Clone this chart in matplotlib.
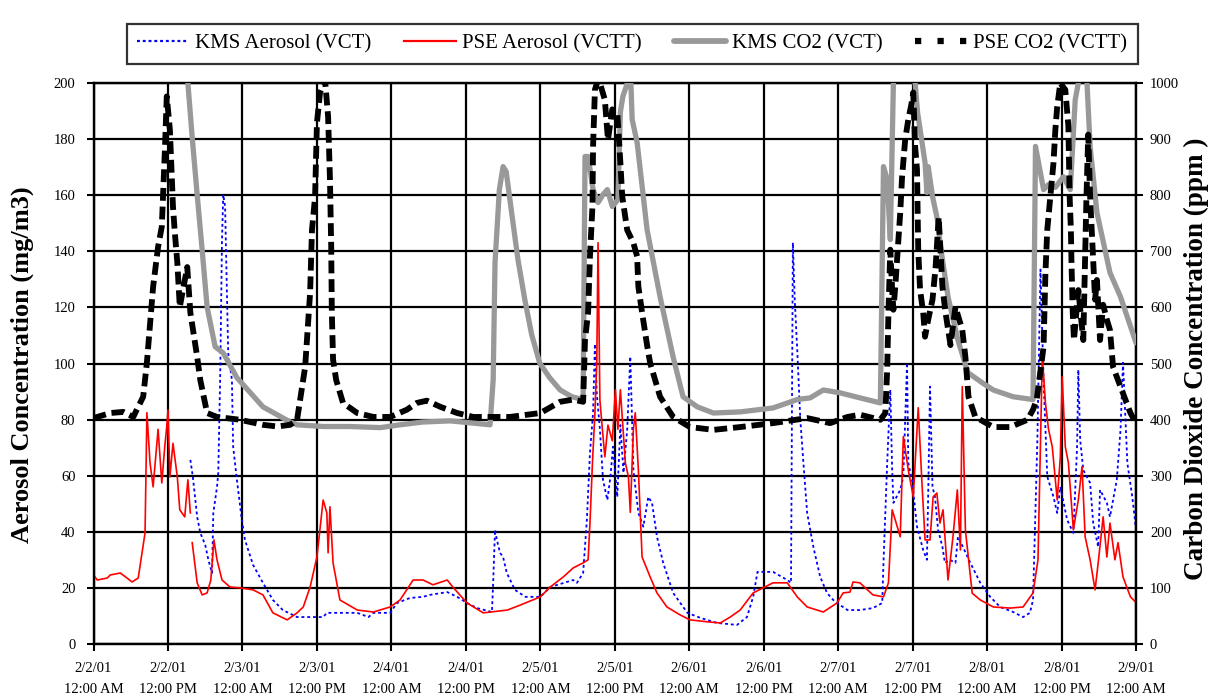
import numpy as np
import matplotlib
matplotlib.use("Agg")
import matplotlib.pyplot as plt
from matplotlib.lines import Line2D

# ---------------- data (hours since 2/2/01 12:00 AM) ----------------
tick_labels = ["2/2/01\n12:00 AM", "2/2/01\n12:00 PM", "2/3/01\n12:00 AM", "2/3/01\n12:00 PM",
               "2/4/01\n12:00 AM", "2/4/01\n12:00 PM", "2/5/01\n12:00 AM", "2/5/01\n12:00 PM",
               "2/6/01\n12:00 AM", "2/6/01\n12:00 PM", "2/7/01\n12:00 AM", "2/7/01\n12:00 PM",
               "2/8/01\n12:00 AM", "2/8/01\n12:00 PM", "2/9/01\n12:00 AM"]
tick_hours = [0, 12, 24, 36, 48, 60, 72, 84, 96, 108, 120, 132, 144, 156, 168]

# KMS Aerosol (VCT) - left axis
kms_aer_h = [15.6, 16.0, 16.7, 17.2, 18.0, 18.5, 19.1, 19.3, 19.9, 20.1, 20.4, 20.7, 20.9, 21.2, 21.5, 21.7,
             22.3, 22.5, 23.1, 23.9, 24.4, 25.7, 27.3, 28.9, 30.5, 32.8, 37.0, 37.6, 42.5, 44.3, 45.1, 47.8,
             48.9, 51.0, 53.1, 54.2, 57.0, 58.6, 60.2, 61.8, 64.2, 64.4, 64.7, 65.0, 65.5, 66.0, 66.6, 67.9,
             69.6, 72.0, 73.6, 77.3, 77.9, 78.9, 79.5, 80.0, 80.5, 80.8, 81.1, 81.6, 82.1, 82.8, 83.3, 83.7,
             84.4, 84.9, 85.4, 86.0, 86.5, 87.0, 87.8, 88.6, 89.4, 90.0, 90.8, 91.8, 93.4, 95.7, 97.8, 100.5,
             103.7, 105.3, 106.3, 107.0, 107.9, 109.5, 111.8, 112.4, 112.7, 113.0, 113.4, 113.9, 114.4, 115.0,
             116.0, 117.1, 118.2, 119.2, 120.3, 121.5, 123.5, 125.6, 127.1, 127.3, 127.9, 128.4, 128.7, 128.9,
             130.0, 130.5, 131.1, 131.3, 131.9, 132.7, 133.7, 134.3, 134.5, 134.8, 135.2, 135.6, 136.1, 136.8,
             137.2, 138.0, 138.9, 139.3, 140.1, 141.3, 142.9, 144.5, 146.1, 148.2, 149.8, 150.9, 151.4, 151.7,
             152.1, 152.6, 153.1, 153.7, 154.7, 155.3, 155.8, 156.9, 157.9, 158.5, 158.7, 159.0, 159.5, 160.6,
             161.1, 161.9, 162.2, 163.3, 163.8, 164.9, 165.5, 165.9, 166.6, 167.4, 168.0]
kms_aer = [65.7, 59.7, 45.4, 39.7, 35.4, 30.1, 25.4, 46.8, 56.1, 61.1, 94.2, 144.0, 160.2, 156.0, 125.2, 103.8,
           94.2, 70.4, 58.6, 44.3, 37.2, 28.3, 21.9, 15.8, 12.2, 9.7, 9.7, 11.2, 11.2, 9.7, 11.2, 11.2,
           14.7, 16.5, 16.9, 17.6, 18.6, 16.9, 14.7, 12.9, 11.5, 21.9, 40.8, 37.2, 32.6, 31.1, 25.4, 19.4,
           16.9, 16.9, 20.4, 22.9, 21.9, 25.4, 44.3, 68.2, 82.5, 107.0, 89.4, 76.6, 58.6, 51.4, 59.7, 70.4,
           52.5, 78.1, 61.1, 76.6, 102.5, 62.1, 46.8, 41.9, 52.5, 50.4, 38.3, 29.0, 18.3, 11.2, 9.4, 7.6,
           6.9, 9.7, 16.9, 25.8, 25.8, 25.8, 22.9, 21.9, 143.1, 122.7, 105.0, 80.0, 64.6, 46.8,
           34.7, 24.0, 18.3, 15.8, 14.0, 12.2, 12.2, 12.9, 14.7, 29.0, 64.6, 90.7, 62.1, 50.4,
           55.0, 59.7, 100.3, 64.6, 58.6, 41.9, 33.6, 30.1, 52.5, 91.8, 56.1, 52.5, 40.8, 34.7,
           29.0, 30.1, 29.0, 38.3, 34.7, 29.0, 21.9, 16.9, 13.3, 11.5, 9.7, 11.2, 15.8, 40.8,
           72.8, 133.5, 94.0, 59.7, 52.5, 46.8, 56.1, 44.3, 39.7, 70.4, 97.8, 72.8, 62.1, 57.5,
           43.2, 34.7, 55.0, 50.4, 45.4, 58.6, 76.4, 100.3, 64.6, 52.5, 40.8]

# PSE Aerosol (VCTT) - left axis (NaN = gap in record)
pse_aer_h = [0.0, 0.6, 2.2, 2.7, 4.3, 5.4, 6.2, 7.2, 7.8, 8.3, 8.6, 9.1, 9.6, 10.4, 11.0, 11.5, 11.8, 12.0,
             12.3, 12.8, 13.5, 13.9, 14.7, 15.2, 15.6, 15.75, 15.9, 16.7, 17.5, 18.3, 18.9, 19.4, 19.9, 20.7,
             22.0, 23.6, 25.7, 27.3, 28.9, 31.2, 32.8, 33.8, 34.9, 36.0, 37.0, 37.6, 37.8, 38.1, 38.6, 39.7,
             42.5, 45.1, 47.8, 49.4, 51.5, 53.1, 54.7, 57.0, 57.9, 60.2, 62.8, 66.7, 68.8, 72.0, 73.6, 75.7,
             77.3, 78.9, 79.7, 80.0, 80.4, 80.8, 81.1, 81.3, 81.6, 82.0, 82.4, 82.9, 83.6, 84.1, 84.5, 84.9,
             85.7, 86.2, 86.5, 87.0, 87.3, 87.8, 88.4, 89.7, 90.8, 92.4, 94.5, 96.1, 99.4, 101.0, 102.6, 104.2,
             106.3, 107.9, 109.5, 111.8, 113.4, 115.0, 117.6, 119.8, 120.8, 121.9, 122.4, 123.5, 125.6, 127.3,
             128.1, 128.7, 129.2, 130.0, 130.5, 131.3, 132.1, 132.9, 133.5, 134.0, 134.8, 135.3, 135.9, 136.4,
             136.9, 137.7, 138.5, 139.2, 139.7, 140.0, 140.5, 141.6, 142.9, 145.0, 147.7, 149.8, 151.4, 152.2,
             152.9, 153.4, 153.9, 154.5, 155.3, 155.8, 156.1, 156.6, 157.1, 157.9, 158.7, 159.3, 159.8, 160.6,
             161.4, 161.9, 162.7, 163.3, 163.8, 164.6, 165.1, 165.9, 167.1, 167.9]
pse_aer = [24.7, 22.9, 23.6, 24.7, 25.4, 23.6, 22.2, 23.6, 32.5, 39.7, 82.5, 64.7, 56.1, 76.6, 57.5, 71.0, 77.6, 83.5,
           59.6, 71.6, 59.6, 47.9, 45.4, 58.6, 46.8, np.nan, 36.2, 21.9, 17.6, 18.3, 22.9, 37.2, 30.1, 22.9,
           20.4, 20.1, 19.4, 17.6, 11.2, 8.7, 11.2, 13.3, 20.4, 31.1, 51.4, 46.8, 32.6, 49.0, 29.0, 15.8,
           12.2, 11.5, 13.3, 15.8, 22.9, 22.9, 21.2, 22.9, 20.4, 14.7, 11.2, 12.2, 14.0, 16.9, 20.4, 24.0,
           27.2, 29.0, 30.1, 43.2, 64.7, 82.5, 100.6, 143.1, 87.1, 76.6, 66.8, 78.1, 72.5, 90.7, 76.6, 90.7,
           64.7, 59.6, 47.0, 76.6, 82.5, 62.1, 31.1, 24.0, 18.3, 13.3, 10.5, 8.7, 7.9, 7.6, 9.7, 12.2,
           18.3, 20.1, 21.9, 21.9, 16.9, 13.3, 11.5, 14.7, 18.3, 18.6, 22.2, 21.9, 17.6, 16.9,
           21.9, 47.9, 44.3, 38.3, 74.0, 62.1, 52.5, 84.3, 57.5, 37.2, 37.2, 52.5, 53.9, 43.2,
           47.9, 22.9, 38.3, 55.0, 33.6, 91.8, 40.8, 18.2, 15.8, 13.3, 12.9, 13.3, 18.3, 30.1,
           102.5, 86.0, 76.6, 70.4, 51.4, 66.8, 95.3, 70.4, 64.7, 40.8, 51.4, 63.3, 38.3, 30.1,
           19.4, 29.0, 45.4, 31.1, 43.2, 30.1, 36.2, 24.0, 16.9, 15.1]

# KMS CO2 (VCT) - right axis, ppm
kms_co2_h = [14.9, 15.2, 15.9, 16.7, 17.5, 18.3, 19.6, 20.9, 23.1, 27.3, 31.7, 32.8, 37.0, 41.3, 46.2, 49.4,
             53.1, 57.5, 61.2, 63.9, 64.4, 64.7, 65.4, 66.0, 66.5, 67.1, 68.4, 69.5, 70.6, 71.9, 73.5, 75.2,
             77.1, 78.9, 79.2, 79.7, 80.5, 81.3, 82.1, 82.8, 83.6, 84.5, 84.9, 85.3, 86.2, 86.5, 86.8, 87.6,
             89.2, 91.3, 93.4, 95.0, 97.3, 99.9, 104.2, 109.5, 113.4, 115.5, 117.6, 120.3, 123.5, 126.8,
             127.3, 127.9, 128.4, 128.9, 129.0, 132.2, 132.5, 132.8, 134.0, 134.3, 134.5, 135.2, 136.0, 136.5,
             137.7, 139.3, 140.9, 143.2, 145.0, 148.2, 151.4, 151.8, 153.1, 153.9, 155.0, 156.3, 157.4, 158.2,
             158.7, 159.1, 159.8, 160.1, 160.6, 161.7, 163.8, 165.5, 168.0]
kms_co2 = [1030, 1000, 903, 801, 703, 601, 530, 519, 475, 423, 396, 391, 388, 388, 386, 391,
           396, 398, 394, 391, 471, 680, 810, 851, 842, 792, 685, 614, 552, 501, 475, 453,
           441, 436, 869, 869, 810, 787, 801, 810, 780, 792, 948, 976, 1005, 1030, 935, 894,
           739, 619, 512, 441, 423, 412, 414, 421, 436, 439, 453, 448, 439, 430,
           851, 828, 721, 1000, 1030, 1030, 987, 947, 858, 805, 851, 798, 756, 708,
           619, 542, 484, 466, 453, 441, 436, 887, 810, 819, 814, 833, 810, 970,
           1000, 1030, 1030, 1000, 887, 769, 662, 619, 537]

# PSE CO2 (VCTT) - right axis, ppm
pse_co2_h = [0.0, 2.7, 4.8, 6.4, 7.2, 8.0, 8.6, 9.6, 10.4, 11.0, 11.5, 11.8, 12.3, 12.8, 13.1, 13.5, 13.9,
             14.4, 15.1, 15.6, 16.7, 17.2, 18.3, 19.9, 23.6, 27.3, 29.6, 31.7, 32.8, 33.3, 34.1, 34.9, 35.2,
             35.7, 36.0, 36.5, 37.3, 37.8, 38.1, 38.3, 38.4, 38.6, 39.1, 40.2, 42.5, 45.1, 47.8, 50.5, 52.1,
             53.7, 55.9, 58.6, 61.2, 67.1, 72.0, 75.2, 77.3, 78.9, 79.2, 79.7, 80.0, 80.4, 80.5, 80.8, 81.3,
             81.6, 82.4, 82.9, 83.6, 84.4, 84.9, 85.2, 86.0, 87.0, 87.6, 87.8, 88.4, 89.2, 89.7, 91.3, 93.4,
             96.1, 99.9, 104.2, 109.5, 115.0, 118.7, 121.5, 123.5, 126.8, 127.6, 127.9, 128.1, 128.4, 128.7,
             128.9, 129.2, 129.7, 130.0, 130.3, 130.8, 131.3, 131.8, 132.1, 132.4, 132.7, 132.9, 133.2, 133.7,
             134.0, 134.5, 135.2, 135.7, 136.2, 136.8, 137.3, 138.1, 138.9, 140.0, 140.5, 141.0, 142.1, 145.0,
             147.7, 150.5, 151.4, 152.0, 153.1, 153.4, 153.7, 154.2, 154.7, 155.0, 155.3, 155.8, 156.3, 156.6,
             157.1, 157.2, 157.3, 157.5, 157.6, 157.8, 158.0, 158.7, 159.5, 160.0, 160.3, 160.6, 160.9, 161.4,
             161.7, 162.2, 162.7, 163.3, 163.8, 164.3, 165.5, 167.1, 168.0]
pse_co2 = [403, 412, 414, 405, 423, 441, 502, 637, 708, 744, 881, 976, 917, 780, 733, 680, 601,
           631, 672, 591, 512, 471, 412, 405, 400, 391, 388, 391, 400, 436, 494, 626, 738,
           797, 929, 983, 1006, 940, 828, 709, 591, 507, 471, 430, 412, 405, 405, 418, 430,
           434, 423, 412, 405, 405, 412, 432, 436, 432, 542, 591, 691, 780, 887, 988, 1006,
           1000, 970, 899, 953, 947, 858, 798, 738, 715, 691, 637, 591, 533, 501, 441, 405,
           387, 382, 387, 394, 403, 394, 405, 409, 400, 412, 489, 591, 703, 631,
           596, 637, 721, 769, 833, 899, 935, 962, 983, 887, 846, 703, 631, 591,
           548, 578, 614, 672, 761, 637, 591, 533, 601, 560, 512, 441, 405, 387,
           387, 400, 418, 436, 530, 662, 739, 798, 858, 917, 958, 1000, 992, 988,
           923, 864, 798, 739, 680, 591, 542, 631, 542, 792, 908, 798, 730, 614,
           649, 542, 605, 578, 560, 494, 459, 412, 394]

series_labels = ["KMS Aerosol (VCT)", "PSE Aerosol (VCTT)", "KMS CO2 (VCT)", "PSE CO2 (VCTT)"]
left_label = "Aerosol Concentration (mg/m3)"
right_label = "Carbon Dioxide Concentration (ppm )"

# ---------------- figure ----------------
serif = ["Liberation Serif", "DejaVu Serif"]
plt.rcParams["font.family"] = serif

fig = plt.figure(figsize=(12.18, 6.96), dpi=100)
ax = fig.add_axes([0.0768, 0.0743, 0.8559, 0.8065])
ax2 = ax.twinx()

ax.plot(kms_aer_h, kms_aer, color="#0000FF", lw=1.3, linestyle=(0, (1.6, 1.6)), zorder=3)
ax.plot(pse_aer_h, pse_aer, color="#FF0000", lw=1.2, zorder=4)
ax2.plot(kms_co2_h, kms_co2, color="#999999", lw=3.8, solid_capstyle="round", solid_joinstyle="round", zorder=3)
ax2.plot(pse_co2_h, pse_co2, color="black", lw=4.2, linestyle=(0, (2.2, 1.0)), zorder=4)

ax.set_xlim(0, 168)
ax.set_ylim(0, 200)
ax2.set_ylim(0, 1000)
ax.set_xticks(tick_hours)
ax.set_xticklabels(tick_labels, fontsize=10.5, linespacing=1.75)
ax.set_yticks(np.arange(0, 201, 20))
ax2.set_yticks(np.arange(0, 1001, 100))
ax.tick_params(axis="y", labelsize=10.5, length=5, width=1.5, pad=8, direction="out")
ax.tick_params(axis="x", length=5, width=1.5, pad=8, direction="out")
ax2.tick_params(axis="y", labelsize=10.5, length=5, width=1.5, pad=5, direction="out")

ax.grid(True, color="black", lw=1.6)
ax.set_axisbelow(True)
for a in (ax, ax2):
    for s in a.spines.values():
        s.set_linewidth(1.6)

fig.text(0.018, 0.476, left_label, rotation=90, ha="center", va="center",
         fontsize=19, fontweight="bold")
fig.text(0.982, 0.485, right_label, rotation=90, ha="center", va="center",
         fontsize=19.5, fontweight="bold")

handles = [
    Line2D([], [], color="#0000FF", lw=1.6, linestyle=(0, (1.3, 1.3))),
    Line2D([], [], color="#FF0000", lw=1.6),
    Line2D([], [], color="#999999", lw=4.2, solid_capstyle="round"),
    Line2D([], [], color="black", lw=4.5, linestyle=(0, (1.0, 2.6))),
]
leg = fig.legend(handles, series_labels, loc="lower left", bbox_to_anchor=(0.104, 0.908, 0.830, 0.078),
                 mode="expand", ncol=4, fontsize=15, frameon=True, fancybox=False,
                 edgecolor="black", handlelength=2.5, handletextpad=0.3, columnspacing=0.8,
                 borderaxespad=0.0, borderpad=0.5)
leg.get_frame().set_linewidth(1.6)

fig.savefig("out.png", dpi=100, facecolor="white")
